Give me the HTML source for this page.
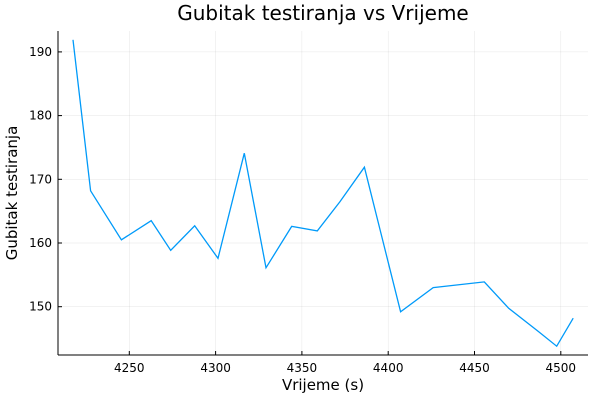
<!DOCTYPE html>
<html><head><meta charset="utf-8"><style>
html,body{margin:0;padding:0;background:#fff;}
svg{display:block;font-family:"DejaVu Sans","Liberation Sans",sans-serif;}
</style></head><body>
<svg id="chart" width="600" height="400" viewBox="0 0 600 400">
<rect width="600" height="400" fill="#fff"/>
<text x="323" y="20" font-size="20" text-anchor="middle" fill="#000">Gubitak testiranja vs Vrijeme</text>
<text x="323" y="390" font-size="15" text-anchor="middle" fill="#000">Vrijeme (s)</text>
<text transform="translate(17,193) rotate(-90)" font-size="15" text-anchor="middle" fill="#000">Gubitak testiranja</text>
<g id="grid"></g>
<g id="ticks"></g>
<line x1="58" y1="31" x2="58" y2="355" stroke="#000" stroke-width="1"/>
<line x1="58" y1="355" x2="588" y2="355" stroke="#000" stroke-width="1"/>
<path id="series" fill="none" stroke="#009af9" stroke-width="1.3"/>
</svg>
<script>
const times = [4217.4,4227.6,4245.4,4262.7,4274.0,4287.9,4301.4,4316.6,4329.2,4344.1,4358.9,4372.1,4386.2,4407.2,4426.1,4455.7,4469.8,4487.0,4497.6,4507.2];
const losses = [191.9,168.2,160.5,163.5,158.85,162.7,157.6,174.1,156.1,162.6,161.9,166.5,171.9,149.2,153.0,153.9,149.75,146.1,143.8,148.2];
const xTicks = [4250,4300,4350,4400,4450,4500];
const yTicks = [150,160,170,180,190];
function sx(v){return 129.3+(v-4250)*1.726;}
function sy(v){return 243-(v-160)*6.37;}
const NS="http://www.w3.org/2000/svg";
const grid=document.getElementById('grid'), ticks=document.getElementById('ticks');
xTicks.forEach(t=>{
  const x=sx(t);
  const g=document.createElementNS(NS,'line');
  g.setAttribute('x1',x);g.setAttribute('x2',x);g.setAttribute('y1',31);g.setAttribute('y2',355);
  g.setAttribute('stroke','#000');g.setAttribute('stroke-opacity','0.1');g.setAttribute('stroke-width','0.5');
  
  
  grid.appendChild(g);
  const tk=document.createElementNS(NS,'line');
  tk.setAttribute('x1',x);tk.setAttribute('x2',x);tk.setAttribute('y1',355);tk.setAttribute('y2',351);tk.setAttribute('stroke','#000');
  
  
  ticks.appendChild(tk);
  const tx=document.createElementNS(NS,'text');
  tx.setAttribute('x',x);tx.setAttribute('y',372);tx.setAttribute('font-size','12');tx.setAttribute('text-anchor','middle');
  tx.textContent=t;
  
  
  ticks.appendChild(tx);
});
yTicks.forEach(t=>{
  const y=sy(t);
  const g=document.createElementNS(NS,'line');
  g.setAttribute('x1',58);g.setAttribute('x2',588);g.setAttribute('y1',y);g.setAttribute('y2',y);
  g.setAttribute('stroke','#000');g.setAttribute('stroke-opacity','0.1');g.setAttribute('stroke-width','0.5');
  
  
  grid.appendChild(g);
  const tk=document.createElementNS(NS,'line');
  tk.setAttribute('x1',58);tk.setAttribute('x2',62);tk.setAttribute('y1',y);tk.setAttribute('y2',y);tk.setAttribute('stroke','#000');
  
  
  ticks.appendChild(tk);
  const tx=document.createElementNS(NS,'text');
  tx.setAttribute('x',52);tx.setAttribute('y',y+4);tx.setAttribute('font-size','12');tx.setAttribute('text-anchor','end');
  tx.textContent=t;
  
  
  ticks.appendChild(tx);
});
document.getElementById('series').setAttribute('d',times.map((t,i)=>(i?'L':'M')+sx(t).toFixed(1)+','+sy(losses[i]).toFixed(1)).join(' '));
</script>
</body></html>
